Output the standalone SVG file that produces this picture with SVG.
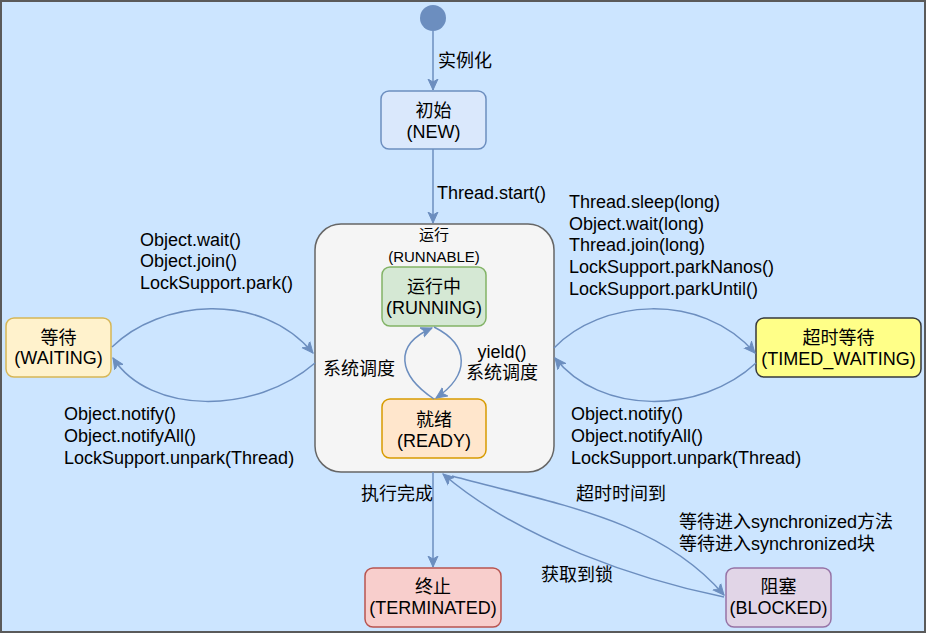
<svg xmlns="http://www.w3.org/2000/svg" width="927" height="634" viewBox="0 0 927 634">
<style>
text{font-family:"Liberation Sans","Noto Sans CJK SC",Arial,sans-serif;fill:#000;}
.n{font-size:18px;text-anchor:middle;}
.l{font-size:18px;}
.e{fill:none;stroke:#6c8ebf;stroke-width:1.5;marker-end:url(#ah);}
</style>
<defs>
<marker id="ah" markerUnits="userSpaceOnUse" markerWidth="12" markerHeight="12" refX="11" refY="6" orient="auto" viewBox="0 0 12 12">
<path d="M0,1 L11,6 L0,11 L3,6 Z" fill="#6c8ebf" stroke="#6c8ebf" stroke-width="1"/>
</marker>
</defs>
<rect x="1" y="1" width="924" height="631" fill="#cce5ff" stroke="#5a5a5a" stroke-width="2"/>

<g id="start"><circle cx="433" cy="18" r="13" fill="#6c8ebf"/></g>

<g id="runnable">
<rect x="315" y="224" width="239" height="248" rx="26" fill="#f5f5f5" stroke="#666666" stroke-width="1.5"/>
<text x="434" y="240" style="font-size:15px;text-anchor:middle">运行</text>
<text x="434" y="262" style="font-size:15px;text-anchor:middle">(RUNNABLE)</text>
</g>

<g id="new">
<rect x="381" y="91" width="105" height="58" rx="8" fill="#dae8fc" stroke="#6c8ebf" stroke-width="1.5"/>
<text class="n" x="433.5" y="117">初始</text>
<text class="n" x="433.5" y="138">(NEW)</text>
</g>

<g id="running">
<rect x="382" y="267" width="104" height="59" rx="8" fill="#d5e8d4" stroke="#82b366" stroke-width="1.5"/>
<text class="n" x="434" y="293">运行中</text>
<text class="n" x="434" y="314">(RUNNING)</text>
</g>

<g id="ready">
<rect x="382" y="399" width="104" height="59" rx="8" fill="#ffe6cc" stroke="#d79b00" stroke-width="1.5"/>
<text class="n" x="434" y="426">就绪</text>
<text class="n" x="434" y="447">(READY)</text>
</g>

<g id="waiting">
<rect x="6" y="318" width="105" height="59" rx="8" fill="#fff2cc" stroke="#d6b656" stroke-width="1.5"/>
<text class="n" x="58.5" y="344">等待</text>
<text class="n" x="58.5" y="364">(WAITING)</text>
</g>

<g id="timed_waiting">
<rect x="756" y="318" width="165" height="59" rx="8" fill="#ffff88" stroke="#36393d" stroke-width="1.5"/>
<text class="n" x="838.5" y="344">超时等待</text>
<text class="n" x="838.5" y="365">(TIMED_WAITING)</text>
</g>

<g id="terminated">
<rect x="365" y="568" width="136" height="59" rx="8" fill="#f8cecc" stroke="#b85450" stroke-width="1.5"/>
<text class="n" x="433" y="593">终止</text>
<text class="n" x="433" y="614">(TERMINATED)</text>
</g>

<g id="blocked">
<rect x="726" y="568" width="105" height="59" rx="8" fill="#e1d5e7" stroke="#9673a6" stroke-width="1.5"/>
<text class="n" x="778.5" y="593">阻塞</text>
<text class="n" x="778.5" y="614">(BLOCKED)</text>
</g>

<g id="connectors">
<path class="e" d="M433,31 L433,90"/>
<path class="e" d="M433,149 L433,223"/>
<path class="e" d="M433,472 L433,567"/>
<path class="e" d="M434,399 C398,375 393,345 432,328"/>
<path class="e" d="M434,327 C470,345 470,375 436,398"/>
<path class="e" d="M112,347 C160,300 260,290 313,353"/>
<path class="e" d="M315,363 C255,415 150,415 113,358"/>
<path class="e" d="M554,348 C600,300 700,290 755,353"/>
<path class="e" d="M756,363 C700,415 600,415 555,358"/>
<path class="e" d="M452,476 C560,505 660,520 724,595"/>
<path class="e" d="M724,597 C640,580 520,540 443,474"/>
</g>

<g id="labels">
<text class="l" x="438" y="67">实例化</text>
<text class="l" x="437" y="199">Thread.start()</text>
<text class="l" x="323" y="375">系统调度</text>
<text class="l" x="502" y="358" text-anchor="middle">yield()</text>
<text class="l" x="502" y="379" text-anchor="middle">系统调度</text>
<text class="l" x="140" y="246">Object.wait()</text>
<text class="l" x="140" y="267">Object.join()</text>
<text class="l" x="140" y="289">LockSupport.park()</text>
<text class="l" x="64" y="420">Object.notify()</text>
<text class="l" x="64" y="442">Object.notifyAll()</text>
<text class="l" x="64" y="464">LockSupport.unpark(Thread)</text>
<text class="l" x="569" y="208">Thread.sleep(long)</text>
<text class="l" x="569" y="230">Object.wait(long)</text>
<text class="l" x="569" y="251">Thread.join(long)</text>
<text class="l" x="569" y="273">LockSupport.parkNanos()</text>
<text class="l" x="569" y="295">LockSupport.parkUntil()</text>
<text class="l" x="571" y="420">Object.notify()</text>
<text class="l" x="571" y="442">Object.notifyAll()</text>
<text class="l" x="571" y="464">LockSupport.unpark(Thread)</text>
<text class="l" x="361" y="500">执行完成</text>
<text class="l" x="576" y="500">超时时间到</text>
<text class="l" x="679" y="528">等待进入synchronized方法</text>
<text class="l" x="679" y="550">等待进入synchronized块</text>
<text class="l" x="541" y="581">获取到锁</text>
</g>
</svg>
